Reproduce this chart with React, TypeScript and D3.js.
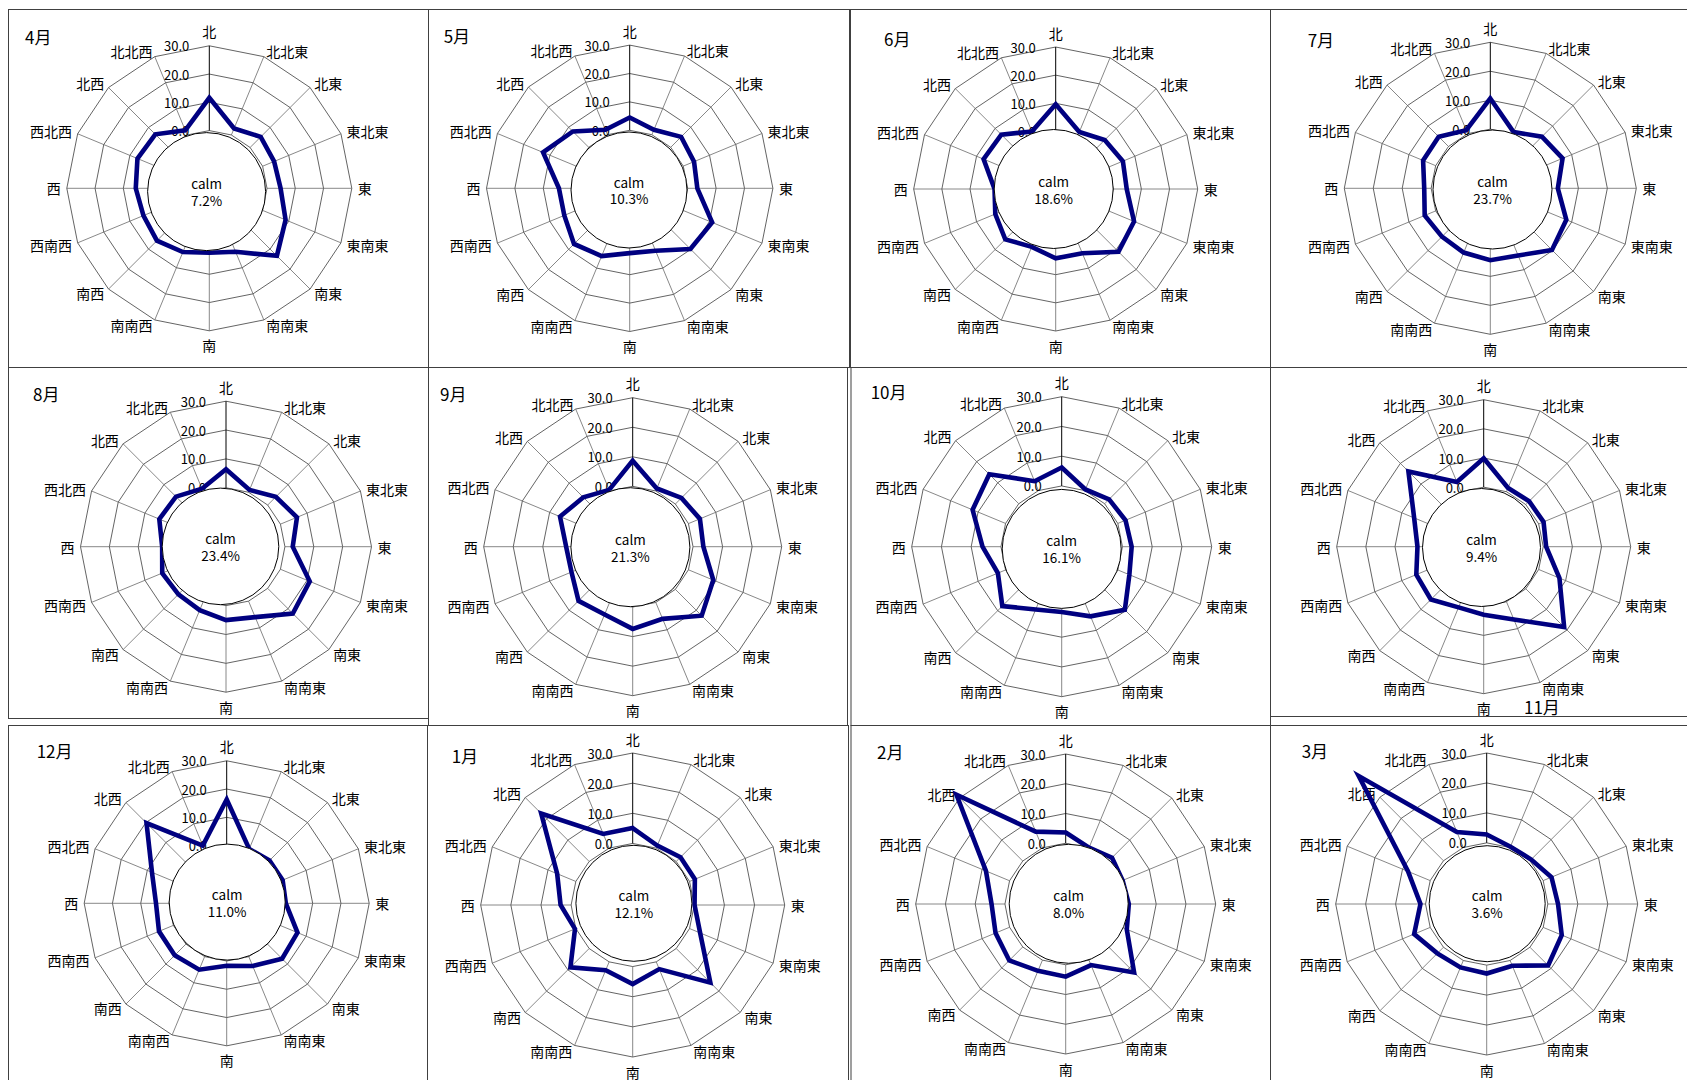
import React, { useEffect } from 'react';
import * as d3 from 'd3';

// 16 compass points, clockwise from north
const directions = ['北', '北北東', '北東', '東北東', '東', '東南東', '南東', '南南東', '南', '南南西', '南西', '西南西', '西', '西北西', '北西', '北北西'];
const ticks = [0, 10, 20, 30];
const months = ['4月', '5月', '6月', '7月', '8月', '9月', '10月', '11月', '12月', '1月', '2月', '3月'];
const calm = [7.2, 10.3, 18.6, 23.7, 23.4, 21.3, 16.1, 9.4, 11.0, 12.1, 8.0, 3.6];

// frequency (%) per direction, same order as `directions`
const apr = [11.6, 2.5, 5.3, 4.4, 4.8, 8.8, 13.4, 3.9, 2.4, 4.0, 5.8, 4.8, 5.6, 7.1, 6.6, 1.8];
const may = [4.5, 1.9, 5.2, 4.1, 3.4, 11.0, 9.8, 3.4, 2.4, 5.4, 7.3, 4.5, 4.5, 12.6, 7.9, 1.9];
const jun = [9.7, 1.5, 4.2, 5.4, 4.8, 9.7, 11.1, 4.3, 4.2, 1.8, 4.9, 2.8, 1.3, 7.3, 6.9, 1.7];
const jul = [10.6, 0.6, 4.8, 6.6, 2.9, 8.0, 9.7, 4.7, 4.4, 3.6, 3.2, 4.1, 2.4, 4.7, 4.8, 1.3];
const aug = [6.4, 0.9, 4.0, 6.2, 2.7, 11.0, 12.3, 6.0, 5.0, 3.4, 2.9, 3.5, 1.7, 4.6, 4.1, 1.3];
const sep = [8.7, 0.9, 2.9, 4.2, 3.5, 9.1, 12.6, 6.0, 7.4, 4.4, 5.5, 2.0, 2.1, 6.2, 3.2, 0.4];
const oct = [6.2, 0.4, 2.1, 2.8, 3.1, 4.2, 9.6, 4.9, 1.5, 2.4, 7.8, 2.8, 6.2, 12.0, 14.0, 3.4];
const nov = [9.9, 1.4, 1.6, 1.8, 1.0, 7.7, 18.6, 6.6, 2.9, 2.1, 5.2, 4.6, 2.3, 5.4, 16.1, 3.6];
const dec = [16.3, 0.4, 1.0, 1.0, 0.5, 6.7, 7.3, 3.6, 1.7, 5.0, 5.6, 5.5, 4.6, 8.2, 19.7, 1.7];
const jan = [5.1, 0.9, 2.0, 1.9, 0.1, 3.8, 16.0, 2.6, 5.8, 3.0, 8.8, 0.3, 3.5, 6.7, 22.5, 5.1];
const feb = [3.6, 0.1, 1.6, 0.3, 0.8, 1.8, 12.1, 1.8, 4.0, 3.9, 6.4, 5.1, 4.5, 8.6, 31.5, 5.9];
const mar = [2.8, 0.3, 0.6, 3.0, 3.4, 6.7, 8.6, 1.9, 2.8, 2.5, 2.9, 5.8, 1.7, 8.0, 40.0, 5.6];
const series = [apr, may, jun, jul, aug, sep, oct, nov, dec, jan, feb, mar];

// where each Excel chart sits on the sheet
const layout = [
  { box: [8, 9, 420, 358], cx: 209.3, cy: 188.3, r: 142.5, cdx: -2.7, cdy: 3.3, cr: 59, tx: 25, ty: 36 },
  { box: [428, 9, 421, 358], cx: 629.7, cy: 188.3, r: 143.2, cdx: -0.7, cdy: 1.7, cr: 58, tx: 443.7, ty: 35 },
  { box: [850, 9, 420, 358], cx: 1055.7, cy: 189, r: 142, cdx: -2, cdy: 0, cr: 59.5, tx: 884, ty: 38 },
  { box: [1270, 9, 430, 358], cx: 1490.3, cy: 188.3, r: 146, cdx: 2.2, cdy: 1.2, cr: 59.5, tx: 1307.7, ty: 39 },
  { box: [8, 367, 420, 351], cx: 226, cy: 546.7, r: 145.5, cdx: -5.5, cdy: -0.3, cr: 58.3, tx: 33, ty: 393 },
  { box: [428, 367, 419, 358], cx: 632.7, cy: 546.7, r: 149, cdx: -2.3, cdy: 0.5, cr: 59.5, tx: 440, ty: 393 },
  { box: [850.5, 367, 419.5, 358], cx: 1061.7, cy: 546.7, r: 150, cdx: 0, cdy: 2.2, cr: 59.5, tx: 870.7, ty: 391.7 },
  { box: [1270, 367, 430, 349], cx: 1483.7, cy: 546.7, r: 147, cdx: -2.2, cdy: 0.8, cr: 59, tx: 1524, ty: 706.7 },
  { box: [8, 725, 420, 380], cx: 226.7, cy: 903.3, r: 142.5, cdx: 0.5, cdy: -1.2, cr: 58, tx: 36.7, ty: 750 },
  { box: [427, 725, 421, 380], cx: 632.7, cy: 905, r: 152, cdx: 1.2, cdy: -1.7, cr: 58, tx: 451.7, ty: 755 },
  { box: [850.5, 725, 419.5, 380], cx: 1065.7, cy: 904, r: 150, cdx: 3, cdy: -0.2, cr: 59.5, tx: 877, ty: 751.7 },
  { box: [1270, 725, 430, 380], cx: 1486.7, cy: 904, r: 151, cdx: 0.5, cdy: -0.3, cr: 58, tx: 1301.7, ty: 750 },
];

const FONT = '"Noto Sans CJK JP", "Noto Sans", sans-serif';
const step = (2 * Math.PI) / directions.length;

const WindRose: React.FC<{ idx: number }> = ({ idx }) => {
  const p = layout[idx];
  const values = series[idx];
  const rScale = d3.scaleLinear().domain([0, 30]).range([p.r * 0.405, p.r]);

  const ring = d3.lineRadial<string>()
    .angle((_, i) => i * step)
    .curve(d3.curveLinearClosed);

  const dataLine = d3.lineRadial<number>()
    .angle((_, i) => i * step)
    .radius(d => rScale(d))
    .curve(d3.curveLinearClosed);

  const [bx, by, bw, bh] = p.box;

  return (
    <g>
      <rect x={bx + 0.5} y={by + 0.5} width={bw} height={bh} fill="#fff" stroke="#404040" strokeWidth={1} />
      <g transform={`translate(${p.cx},${p.cy})`}>
        {/* rings */}
        {ticks.map(t => (
          <path key={t}
            d={ring.radius(() => rScale(t))(directions) || ''}
            fill="none"
            stroke="#303030"
            strokeWidth={0.75} />
        ))}
        {/* spokes */}
        {directions.map((_, i) => {
          const a = i * step;
          const r0 = rScale(0), r1 = rScale(30);
          return (
            <line key={i}
              x1={r0 * Math.sin(a)} y1={-r0 * Math.cos(a)}
              x2={r1 * Math.sin(a)} y2={-r1 * Math.cos(a)}
              stroke={i === 0 ? '#000' : '#606060'}
              strokeWidth={i === 0 ? 1 : 0.75} />
          );
        })}
        {/* direction labels */}
        {directions.map((name, i) => {
          const a = i * step;
          const ux = Math.sin(a), uy = -Math.cos(a);
          const w = name.length * 14;
          const rr = rScale(30) + 6;
          const xoff = Math.abs(ux) > 0.01 ? Math.sign(ux) * w / 2 : 0;
          const yoff = Math.abs(ux) <= 0.01 ? Math.sign(uy) * 8.5 : 0;
          return (
            <text key={name}
              x={rr * ux + xoff} y={rr * uy + yoff}
              textAnchor="middle" dominantBaseline="central"
              fontFamily={FONT} fontSize={14} fill="#000">{name}</text>
          );
        })}
        {/* value ticks */}
        {ticks.map(t => (
          <text key={t} x={-20} y={-rScale(t)}
            textAnchor="end" dominantBaseline="central"
            fontFamily={FONT} fontSize={13} fill="#000">{t.toFixed(1)}</text>
        ))}
        {/* frequency line */}
        <path d={dataLine(values) || ''} fill="none" stroke="#000080" strokeWidth={4.6}
          strokeLinejoin="miter" strokeMiterlimit={10} />
        {/* calm circle */}
        <circle cx={p.cdx} cy={p.cdy} r={p.cr} fill="#fff" stroke="#000" strokeWidth={1} />
        <text x={p.cdx} y={p.cdy - 8.5} textAnchor="middle" dominantBaseline="central"
          fontFamily={FONT} fontSize={13.5} fill="#000">calm</text>
        <text x={p.cdx} y={p.cdy + 8.5} textAnchor="middle" dominantBaseline="central"
          fontFamily={FONT} fontSize={13.5} fill="#000">{calm[idx].toFixed(1)}%</text>
      </g>
      <text x={p.tx} y={p.ty} dominantBaseline="central"
        fontFamily={FONT} fontSize={17} fill="#000">{months[idx]}</text>
    </g>
  );
};

const App: React.FC = () => {
  useEffect(() => {
    document.body.style.margin = '0';
    document.body.style.overflow = 'hidden';
  }, []);

  return (
    <svg width={1687} height={1080} style={{ display: 'block', background: '#fff' }}>
      {months.map((_, i) => <WindRose key={i} idx={i} />)}
    </svg>
  );
};

export default App;
